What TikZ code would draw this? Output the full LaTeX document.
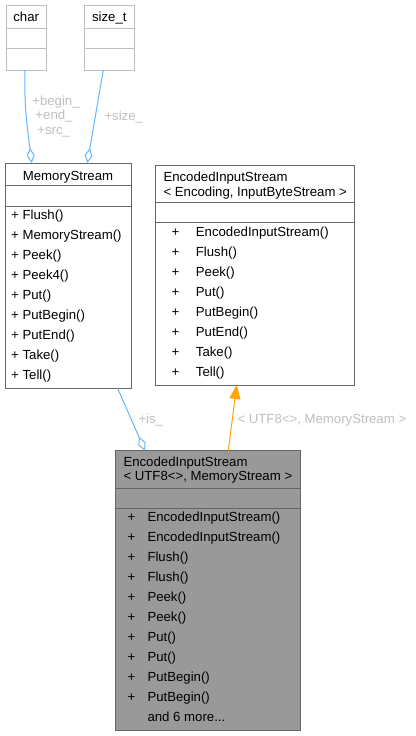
\documentclass[tikz,border=0pt]{standalone}
\usepackage{fontspec}
\setmainfont{Liberation Sans}
\usetikzlibrary{arrows.meta}
\definecolor{edgeblue}{HTML}{63B8FF}
\definecolor{edgeorange}{HTML}{FFA500}
\definecolor{boxdark}{HTML}{666666}
\definecolor{boxlight}{HTML}{BFBFBF}
\definecolor{boxfill}{HTML}{999999}
\definecolor{labelgray}{HTML}{BFBFBF}
\begin{document}
\begin{tikzpicture}[x=1pt,y=-1pt,
  umlbox/.style={draw=boxdark, line width=1pt, rectangle, inner sep=0pt, outer sep=0pt, anchor=north west},
  lightbox/.style={umlbox, draw=boxlight},
  sep/.style={line width=1pt},
  txt/.style={inner sep=0pt, anchor=base west, font=\fontsize{13.2}{15}\selectfont},
  ctxt/.style={txt, anchor=base},
  lbl/.style={inner sep=0pt, anchor=base, text=labelgray, font=\fontsize{13.2}{15}\selectfont},
  lblw/.style={lbl, anchor=base west},
  aggr/.style={draw=edgeblue, line width=1pt, -{Diamond[open, length=15pt, width=8pt, line width=1pt]}},
  inherit/.style={draw=edgeorange, line width=1pt, -{Triangle[length=14pt, width=11pt, fill=edgeorange]}}
]
\useasboundingbox (0,0) rectangle (415,736);
\fill[white] (0,0) rectangle (415,736);

% char
\node[lightbox, minimum width=40.5pt, minimum height=65pt] (char) at (6,5) {};
\draw[sep, boxlight] (6,28) -- (46.5,28) (6,48) -- (46.5,48);
\node[ctxt] (chart) at (26.2,21.7) {char};

% size_t
\node[lightbox, minimum width=50pt, minimum height=65pt] (sizet) at (84,5) {};
\draw[sep, boxlight] (84,28) -- (134,28) (84,48) -- (134,48);
\node[ctxt] (sizett) at (109.3,21.7) {size\_t};

% MemoryStream
\node[umlbox, minimum width=126pt, minimum height=225pt] (mem) at (5,163) {};
\draw[sep, boxdark] (5,185.7) -- (131,185.7) (5,206) -- (131,206);
\node[ctxt] (memt) at (68,180) {MemoryStream};
\foreach \m [count=\i from 0] in {Flush(), MemoryStream(), Peek(), Peek4(), Put(), PutBegin(), PutEnd(), Take(), Tell()}
  \node[txt] (memr\i) at (11,219+20*\i) {+ \m};

% EncodedInputStream template
\node[umlbox, minimum width=199pt, minimum height=220pt] (tmpl) at (155,165) {};
\draw[sep, boxdark] (155,202.7) -- (354,202.7) (155,222.7) -- (354,222.7);
\node[txt] (tmplt1) at (163.3,181.7) {EncodedInputStream};
\node[txt] (tmplt2) at (163.3,196.2) {< Encoding, InputByteStream >};
\foreach \m [count=\i from 0] in {EncodedInputStream(), Flush(), Peek(), Put(), PutBegin(), PutEnd(), Take(), Tell()}{
  \node[txt] (tmplp\i) at (171.5,236.7+20*\i) {+};
  \node[txt] (tmplr\i) at (195.7,236.7+20*\i) {\m};
}

% EncodedInputStream<UTF8<>, MemoryStream>
\node[umlbox, fill=boxfill, minimum width=185pt, minimum height=280pt] (inst) at (115,450.7) {};
\draw[sep, boxdark] (115,488) -- (300,488) (115,508) -- (300,508);
\node[txt] (instt1) at (123.3,466.7) {EncodedInputStream};
\node[txt] (instt2) at (123.3,480.8) {< UTF8<>, MemoryStream >};
\foreach \m [count=\i from 0] in {EncodedInputStream(), EncodedInputStream(), Flush(), Flush(), Peek(), Peek(), Put(), Put(), PutBegin(), PutBegin()}{
  \node[txt] (instp\i) at (127.3,521+20*\i) {+};
  \node[txt] (instr\i) at (147.3,521+20*\i) {\m};
}
\node[txt] (instmore) at (147.3,721) {and 6 more...};

% connector end points on box borders
\coordinate (charS) at (25,70);
\coordinate (memNa) at (31.7,163);
\coordinate (sizetS) at (103.3,70);
\coordinate (memNb) at (87.3,163);
\coordinate (memS) at (117.5,388);
\coordinate (instNa) at (145,450.7);
\coordinate (instNb) at (228.3,450.7);
\coordinate (tmplS) at (236.7,385);

% connectors
\draw[aggr] (charS) .. controls (24,108) and (27.5,128) .. (memNa);
\draw[aggr] (sizetS) -- (memNb);
\draw[aggr] (memS) -- (instNa);
\draw[inherit] (instNb) -- (tmplS);

% labels
\node[lbl] (lb1) at (56,105) {+begin\_};
\node[lbl] (lb2) at (54,119.5) {+end\_};
\node[lbl] (lb3) at (53.7,134) {+src\_};
\node[lblw] (lb4) at (104.3,120) {+size\_};
\node[lblw] (lb5) at (138.3,423.3) {+is\_};
\node[lblw] (lb6) at (237.3,423.3) {< UTF8<>, MemoryStream >};
\end{tikzpicture}
\end{document}
